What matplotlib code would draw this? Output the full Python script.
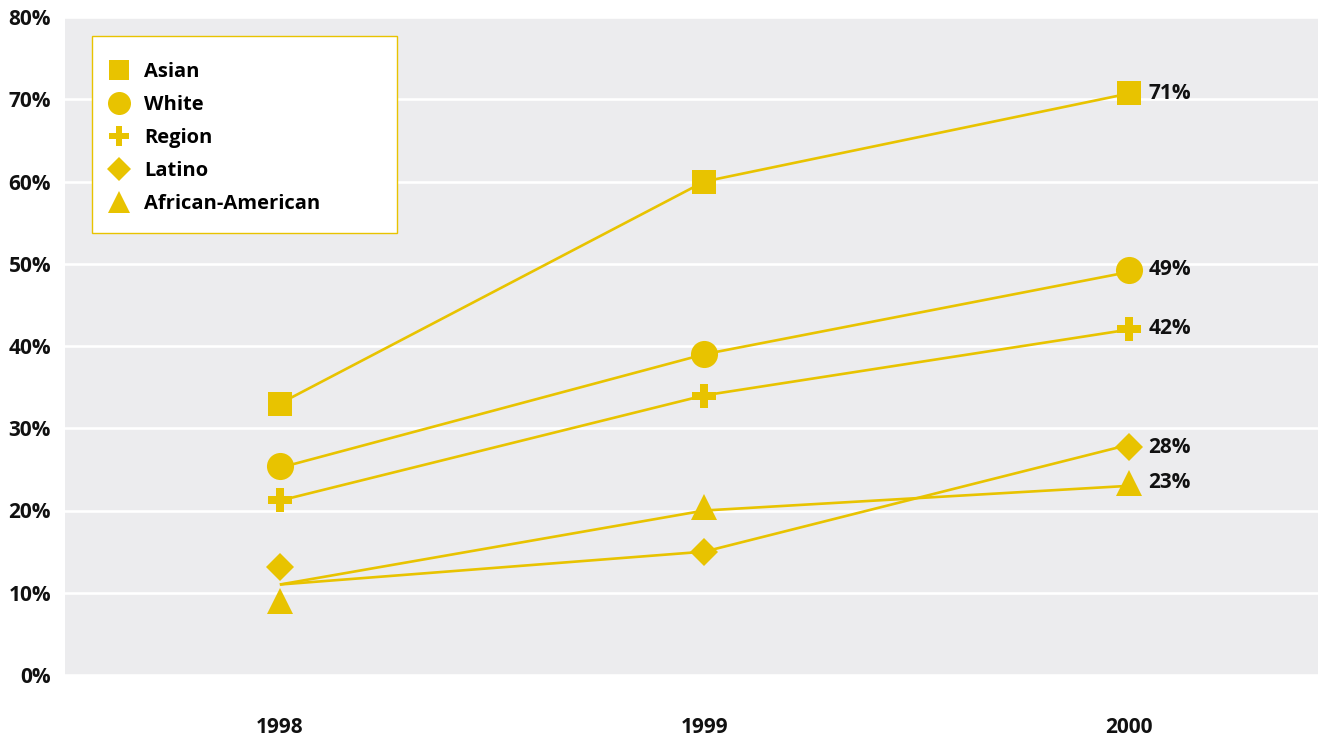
import matplotlib.pyplot as plt
from matplotlib.lines import Line2D
from matplotlib.patches import Rectangle

years = [1998, 1999, 2000]
series = ["Asian", "White", "Region", "Latino", "African-American"]
markers = ["s", "o", "P", "D", "^"]
msizes = [17, 19.5, 17, 14.5, 19]

# values the lines pass through
asian_line = [33, 60, 70.7]
white_line = [25.2, 39, 49]
region_line = [21.2, 34, 42]
latino_line = [11, 15, 28]
afram_line = [11, 20, 23]

# where the markers sit (1998 Latino / African-American are offset in the original)
asian_mk = [33, 60, 70.7]
white_mk = [25.4, 39, 49.3]
region_mk = [21.3, 33.9, 42.1]
latino_mk = [13.1, 15, 27.7]
afram_mk = [9.0, 20.4, 23.4]

end_labels = ["71%", "49%", "42%", "28%", "23%"]

lines = [asian_line, white_line, region_line, latino_line, afram_line]
marks = [asian_mk, white_mk, region_mk, latino_mk, afram_mk]

yellow = "#E8C300"
bg = "#ECECEE"
font = "Open Sans"
W, H = 1253, 658  # axes size in px

fig = plt.figure(figsize=(13.18, 7.36), dpi=100)
ax = fig.add_axes([65 / 1318, 61 / 736, W / 1318, H / 736])
ax.set_facecolor(bg)

for ln, mk, m, ms, lab in zip(lines, marks, markers, msizes, end_labels):
    ax.plot(years, ln, color=yellow, lw=1.9, zorder=2, solid_capstyle="butt")
    ax.plot(years, mk, marker=m, ms=ms, ls="none", color=yellow,
            markeredgewidth=0, zorder=3)
    ax.annotate(lab, (years[-1], mk[-1]), xytext=(14, 0), textcoords="offset points",
                va="center", ha="left", fontsize=15, fontweight="bold",
                family=font, color="#111111")

ax.set_xlim(1997.494, 2000.445)
ax.set_ylim(0, 80)
ax.set_yticks(range(0, 81, 10))
ax.set_yticklabels([f"{v}%" for v in range(0, 81, 10)])
ax.set_xticks(years)
ax.set_xticklabels([str(y) for y in years])
ax.grid(axis="y", color="white", lw=1.9, zorder=1)
ax.set_axisbelow(True)
for s in ax.spines.values():
    s.set_visible(False)
ax.tick_params(axis="both", length=0, labelsize=15, colors="#111111")
ax.tick_params(axis="x", pad=30)
ax.tick_params(axis="y", pad=10)
for t in ax.get_xticklabels() + ax.get_yticklabels():
    t.set_fontweight("bold")
    t.set_family(font)

# legend box
box = Rectangle((27 / W, 1 - 216 / H), 305 / W, 197 / H, transform=ax.transAxes,
                facecolor="white", edgecolor=yellow, lw=1.0, zorder=5)
ax.add_patch(box)

handles = [Line2D([], [], marker=m, ms=ms * 0.85, ls="none", color=yellow,
                  markeredgewidth=0) for m, ms in zip(markers, msizes)]
leg = ax.legend(handles, series, loc="upper left",
                bbox_to_anchor=(26 / W, 1 - 27 / H),
                borderaxespad=0, frameon=False,
                handlelength=1.0, handletextpad=0.75, borderpad=0.9,
                labelspacing=0.65, prop={"family": font, "weight": "bold", "size": 14.5})
leg.set_zorder(6)

fig.savefig("out.png", dpi=100)
